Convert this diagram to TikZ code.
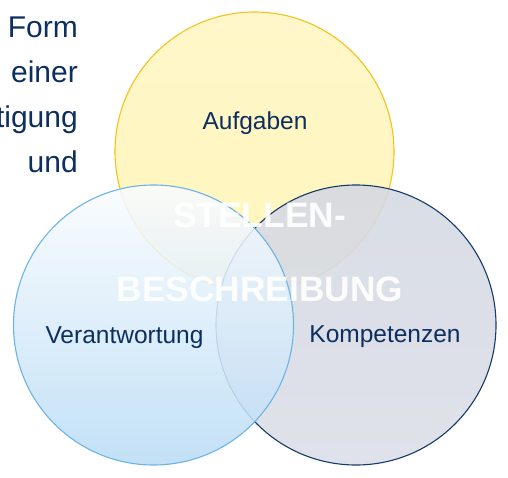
\documentclass[tikz,border=0pt]{standalone}
\usepackage{fontspec}
\setmainfont{Liberation Sans}
\begin{document}
\definecolor{navy}{HTML}{0C2F5F}
\definecolor{goldline}{HTML}{F4C21C}
\definecolor{blueline}{HTML}{6CB4E6}
\definecolor{grayline}{HTML}{163A68}
\begin{tikzpicture}[x=1pt,y=-1pt,
  label/.style={text=navy,font=\fontsize{24.5}{29}\selectfont,inner sep=0pt},
  side/.style={text=navy,font=\fontsize{30}{36}\selectfont,inner sep=0pt,anchor=base east},
  title/.style={text=white,font=\bfseries\fontsize{35.3}{42}\selectfont,inner sep=0pt,anchor=base,text opacity=0.92},
  ring/.style={line width=1.1pt}]
\useasboundingbox (0,0) rectangle (508,478);
% side text, running off the left edge
\node[side] (l1) at (78,38) {Form};
\node[side] (l2) at (78,83) {einer};
\node[side] (l3) at (78,128) {tigung};
\node[side] (l4) at (78,173) {und};
% three overlapping circles
\shade[ring,draw=goldline,top color={rgb,255:red,255;green,247;blue,202},middle color=white,bottom color={rgb,255:red,255;green,245;blue,188}]
  (254.5,151.5) circle[radius=139.5pt];
\shade[ring,draw=grayline,fill opacity=0.9,top color={rgb,255:red,213;green,217;blue,227},middle color={rgb,255:red,236;green,237;blue,242},bottom color={rgb,255:red,220;green,223;blue,232}]
  (356,325) circle[radius=140pt];
\shade[ring,draw=blueline,fill opacity=0.88,top color={rgb,255:red,250;green,252;blue,255},bottom color={rgb,255:red,186;green,220;blue,245}]
  (153.5,325) circle[radius=140pt];
% labels
\node[label,anchor=base] (auf) at (255,130) {Aufgaben};
\node[label,anchor=base] (ver) at (124.5,343) {Verantwortung};
\node[label,anchor=base] (kom) at (385,342) {Kompetenzen};
\node[title] (t1) at (259.5,227) {STELLEN-};
\node[title] (t2) at (260,301) {BESCHREIBUNG};
\end{tikzpicture}
\end{document}
